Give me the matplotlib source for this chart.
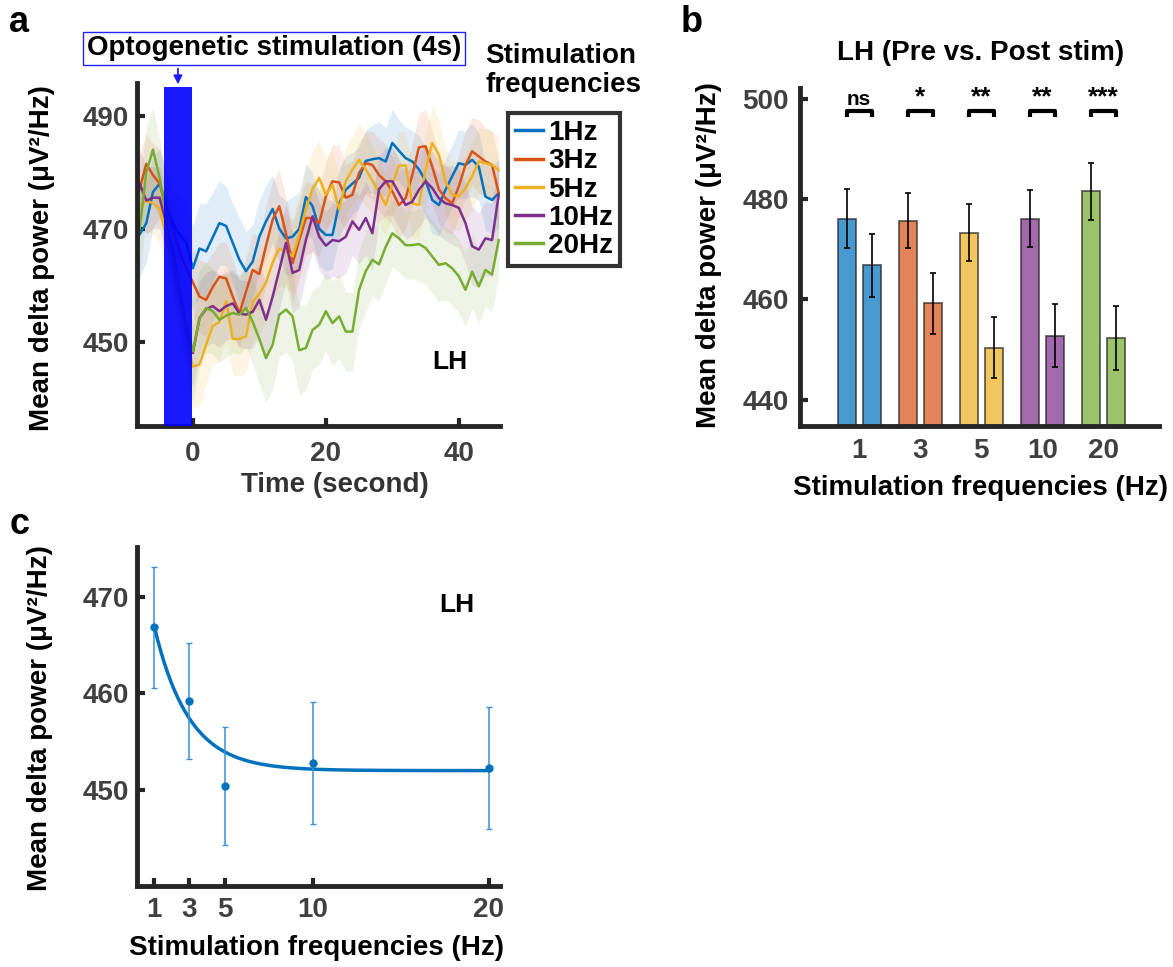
import matplotlib.pyplot as plt
import numpy as np
from matplotlib.patches import Rectangle, FancyArrowPatch

plt.rcParams['font.family'] = ['Liberation Sans', 'DejaVu Sans']
plt.rcParams['font.weight'] = 'bold'
plt.rcParams['axes.labelweight'] = 'bold'

# ---------------- data ----------------
# panel a: mean delta power traces, one sample per second from -9 s to 46 s
time_s = np.arange(-9, 47)
freq_labels = ['1Hz', '3Hz', '5Hz', '10Hz', '20Hz']

trace_1hz = [468, 469, 471, 476.5, 478, 474, 471, 469, 467.5,
             463, 466.5, 466, 468.5, 471, 470.5, 467.5, 464.5, 462.5, 464.2,
             468.6, 471.3, 473.5, 470, 468.3, 468.6, 470, 475.6, 474, 470,
             468.9, 468.9, 474.5, 476.9, 478, 479, 482, 482.3, 482.5, 481.9,
             485.2, 483.8, 482.5, 481.9, 480.5, 478.5, 475.1, 474.2, 476.9, 479.3,
             481.6, 481.3, 482.2, 481, 475.7, 475.1, 476.3]
trace_3hz = [474, 477, 481.5, 479.5, 478, 474, 470, 466, 463,
             460.5, 458, 457.4, 459.7, 461.5, 461.2, 458, 455, 458.9, 462.7,
             462, 467, 471.6, 474, 469.2, 463.9, 468, 471.9, 471.9, 471,
             475.7, 478.4, 478.2, 475.5, 476, 479.9, 481.6, 481.3, 479.5, 478.4,
             476.6, 474.2, 475.4, 479.5, 484.4, 484.6, 481, 477, 475.4, 474.5,
             477.5, 481.3, 483.7, 482.8, 481.9, 481.3, 476.3]
trace_5hz = [474, 474, 475, 474.5, 473.5, 469, 463, 457, 451,
             445.6, 446, 449.5, 452.8, 453.5, 457.2, 450.5, 450.5, 451, 457,
             458.5, 460.5, 464, 466.5, 466, 465.1, 469, 473.5, 477, 479,
             476, 477.8, 473.4, 478.4, 480.5, 482.2, 480.5, 478.5, 476.5, 474.2,
             477.8, 481.2, 481.2, 474.5, 474.2, 480.4, 485.2, 483.1, 478.4, 476,
             475.7, 477.2, 479.3, 481.9, 481.6, 481.3, 480.4]
trace_10hz = [478, 478, 475, 475.5, 475.5, 471, 466, 459, 453,
              448, 454.2, 455.8, 456.3, 455.4, 456.3, 456.8, 455, 454.8, 455.3,
              457.4, 453.9, 458, 462.7, 467.5, 462.2, 462.7, 468, 472.2, 468.6,
              467, 468, 467.8, 468.6, 471.3, 469.8, 471.9, 469.2, 477, 478.4,
              478.4, 476.3, 474.2, 474.8, 476.9, 478.4, 477.2, 475.4, 474.5, 474.2,
              473.7, 471, 466.9, 466.3, 468.3, 468, 476]
trace_20hz = [468, 470, 480, 484, 479, 472, 465, 459, 453,
              448.3, 454.2, 456, 455.4, 453.9, 454.6, 455.1, 454.8, 456, 453.5,
              450.5, 447.1, 449.5, 454.8, 455.7, 454.5, 448.5, 448.9, 452.1, 453,
              455.4, 453.3, 454.5, 451.8, 451.8, 459.2, 462.5, 464.5, 463.7, 466.8,
              469.2, 468.3, 467.1, 467.1, 467.3, 466.6, 465.1, 463.6, 463.9, 463,
              461.6, 459.2, 462.4, 459.8, 462.7, 461.9, 468]

sem_1hz = [8, 7.5, 7, 6.5, 6, 6, 6, 6.5, 7,
           7.5, 8, 8.5, 8, 7.5, 7, 7, 7.5, 7, 6.5, 6.5, 6.5, 6, 6, 6.5,
           7, 6.5, 6, 6, 6.5, 6.5, 6, 6, 6, 5.5, 5.5, 5.5, 6, 6.5, 6,
           6, 5.5, 5.5, 5.5, 6, 6, 6, 5.5, 5.5, 5.5, 6, 6, 6.5, 6, 6, 6, 6]
sem_3hz = [6, 6, 5.5, 5.5, 6, 6, 6.5, 6.5, 6.5,
           6, 6.5, 6.5, 6, 6, 6.5, 6.5, 6, 6, 6.5, 6.5, 7, 7, 6.5, 6.5,
           7, 7, 6.5, 6, 6, 6, 6.5, 6.5, 6, 6, 5.5, 5.5, 6, 6.5, 6.5,
           6, 6, 5.5, 5.5, 6, 6.5, 6.5, 6, 6, 5.5, 5.5, 6, 6, 6.5, 6, 6, 6]
sem_5hz = [5, 5, 5.5, 5.5, 6, 6, 6.5, 7, 7,
           7.5, 7.5, 7, 7, 7, 7, 6.5, 6.5, 6.5, 7, 7, 7, 7, 6.5, 6.5,
           6.5, 6.5, 7, 7, 6.5, 6.5, 6, 6, 6, 6, 6.5, 6.5, 6, 6, 5.5,
           5.5, 6, 6, 6, 6, 6.5, 6.5, 6, 6, 6, 6, 6, 6, 6, 6, 6, 6]
sem_10hz = [6, 6, 6, 5.5, 5.5, 6, 6, 6, 6,
            6, 6.5, 6.5, 6.5, 6.5, 6, 6, 6, 6, 6.5, 6.5, 6.5, 7, 7, 7,
            7, 6.5, 6.5, 6, 6, 6, 6.5, 6.5, 6.5, 6, 6, 6.5, 6.5, 6, 6,
            6, 6, 6, 6, 6.5, 6.5, 6.5, 6.5, 6.5, 7, 7, 7, 7, 6.5, 6.5, 6.5, 6.5]
sem_20hz = [9, 8.5, 8, 7.5, 7, 7, 7, 7.5, 8,
            9, 8.5, 8, 7.5, 7.5, 7.5, 7, 7, 7, 7.5, 8, 8, 8, 7.5, 7.5,
            8, 8, 7.5, 7, 7, 7, 7.5, 7.5, 7, 7, 7, 7, 6.5, 6.5, 6.5,
            6, 6, 6, 6, 6.5, 6.5, 6.5, 6.5, 6.5, 6.5, 6.5, 6.5, 6.5, 6.5, 6.5, 6.5, 6.5]

traces = [trace_1hz, trace_3hz, trace_5hz, trace_10hz, trace_20hz]
sems = [sem_1hz, sem_3hz, sem_5hz, sem_10hz, sem_20hz]

# panel b / c: pre vs post stimulation means
freqs = [1, 3, 5, 10, 20]
pre_mean = [476.1, 475.7, 473.3, 476.1, 481.5]
pre_sem = [5.9, 5.5, 5.7, 5.7, 5.7]
post_mean = [466.8, 459.2, 450.4, 452.8, 452.3]
post_sem = [6.3, 6.0, 6.1, 6.3, 6.3]
sig_labels = ['ns', '*', '**', '**', '***']

# exponential fit shown in panel c
fit_c, fit_a, fit_k = 452.0, 14.9, 0.51

colors = ['#0072BD', '#D95319', '#EDB120', '#7E2F8E', '#77AC30']
axcol = '#262626'
tickcol = '#404040'
FS = 20


def style_axes(ax):
    for s in ['top', 'right']:
        ax.spines[s].set_visible(False)
    for s in ['left', 'bottom']:
        ax.spines[s].set_linewidth(3.5)
        ax.spines[s].set_color(axcol)
    ax.tick_params(direction='in', length=6, width=3, colors=axcol,
                   labelcolor=tickcol, labelsize=FS, pad=6)


fig = plt.figure(figsize=(11.73, 9.67), dpi=100)

# ---------------- panel a ----------------
ax1 = fig.add_axes([0.1168, 0.5595, 0.3095, 0.3547])
for tr, se, c, lab in zip(traces, sems, colors, freq_labels):
    tr = np.array(tr)
    se = np.array(se)
    ax1.fill_between(time_s, tr - se, tr + se, color=c, alpha=0.12, lw=0)
    ax1.plot(time_s, tr, color=c, lw=1.8, label=lab)
ax1.add_patch(Rectangle((-4.4, 435.1), 4.3, 60.0, facecolor='#0000ff',
                        edgecolor='none', alpha=0.9, zorder=5))
ax1.set_xlim(-8.4, 46.2)
ax1.set_ylim(435.1, 495.8)
ax1.set_xticks([0, 20, 40])
ax1.set_yticks([450, 470, 490])
style_axes(ax1)
ax1.tick_params(axis='x', pad=11)
ax1.set_xlabel('Time (second)', fontsize=FS, color='#333333')
ax1.xaxis.set_label_coords(0.545, -0.135)
ax1.set_ylabel('Mean delta power (μV²/Hz)', fontsize=FS, color='black')
ax1.yaxis.set_label_coords(-0.226, 0.49)
ax1.text(38.7, 446.5, 'LH', fontsize=19, ha='center', va='center', color='black')

fig.text(0.2336, 0.950, 'Optogenetic stimulation (4s)', fontsize=FS, ha='center',
         va='center', color='black',
         bbox=dict(boxstyle='square,pad=0.12', facecolor='white', edgecolor='#2222ff', lw=1))
fig.patches.append(FancyArrowPatch(
    (0.1517, 0.932), (0.1517, 0.910), transform=fig.transFigure,
    arrowstyle='-|>', mutation_scale=13, color='#1a1aff', lw=1.2))
fig.text(0.4135, 0.9266, 'Stimulation\nfrequencies', fontsize=FS, ha='left',
         va='center', color='black', linespacing=1.15)
leg = fig.legend(*ax1.get_legend_handles_labels(), loc='upper left',
                 bbox_to_anchor=(0.433, 0.883), bbox_transform=fig.transFigure,
                 fontsize=FS, frameon=True, fancybox=False, handlelength=1.0,
                 handletextpad=0.2, labelspacing=0.08, borderpad=0.25, borderaxespad=0)
leg.get_frame().set_edgecolor('black')
leg.get_frame().set_linewidth(3)
for line in leg.get_lines():
    line.set_linewidth(2.5)

# ---------------- panel b ----------------
ax2 = fig.add_axes([0.682, 0.5595, 0.306, 0.3495])
pos = np.arange(1, len(freqs) + 1)
for i in range(len(freqs)):
    ax2.bar(pos[i] - 0.205, pre_mean[i] - 434.8, bottom=434.8, width=0.29,
            color=colors[i], alpha=0.72, edgecolor=axcol, lw=1.3)
    ax2.bar(pos[i] + 0.205, post_mean[i] - 434.8, bottom=434.8, width=0.29,
            color=colors[i], alpha=0.72, edgecolor=axcol, lw=1.3)
    ax2.errorbar([pos[i] - 0.205, pos[i] + 0.205], [pre_mean[i], post_mean[i]],
                 yerr=[pre_sem[i], post_sem[i]], fmt='none', ecolor='black',
                 elinewidth=1.4, capsize=2, capthick=1.4, alpha=0.85)
    # significance bracket
    ax2.plot([pos[i] - 0.205, pos[i] - 0.205, pos[i] + 0.205, pos[i] + 0.205],
             [496.3, 497.5, 497.5, 496.3], color='black', lw=3, solid_capstyle='butt')
    ax2.text(pos[i], 497.9, sig_labels[i], fontsize=15 if sig_labels[i] == 'ns' else 19,
             ha='center', va='bottom', color='black')
ax2.set_xlim(0.03, 5.91)
ax2.set_ylim(434.8, 502.1)
ax2.set_xticks(pos)
ax2.set_xticklabels([str(f) for f in freqs])
ax2.set_yticks([440, 460, 480, 500])
style_axes(ax2)
ax2.tick_params(axis='x', length=0, pad=9)
ax2.tick_params(axis='y', pad=8)
ax2.set_xlabel('Stimulation frequencies (Hz)', fontsize=FS, color='black')
ax2.xaxis.set_label_coords(0.504, -0.145)
ax2.set_ylabel('Mean delta power (μV²/Hz)', fontsize=FS, color='black')
ax2.yaxis.set_label_coords(-0.217, 0.506)
fig.text(0.836, 0.945, 'LH (Pre vs. Post stim)', fontsize=FS, ha='center',
         va='center', color='black')

# ---------------- panel c ----------------
ax3 = fig.add_axes([0.1168, 0.0838, 0.3095, 0.3510])
xfit = np.linspace(freqs[0], freqs[-1], 200)
yfit = fit_c + fit_a * np.exp(-fit_k * (xfit - freqs[0]))
ax3.plot(xfit, yfit, color='#0072BD', lw=2.5)
ax3.errorbar(freqs, post_mean, yerr=post_sem, fmt='o', color='#0072BD',
             ecolor='#3a8fd8', elinewidth=1.1, capsize=2, capthick=1.0, ms=5)
ax3.set_xlim(0.02, 20.64)
ax3.set_ylim(440.07, 475.17)
ax3.set_xticks(freqs)
ax3.set_yticks([450, 460, 470])
style_axes(ax3)
ax3.tick_params(axis='x', pad=8)
ax3.set_xlabel('Stimulation frequencies (Hz)', fontsize=FS, color='black')
ax3.xaxis.set_label_coords(0.494, -0.143)
ax3.set_ylabel('Mean delta power (μV²/Hz)', fontsize=FS, color='black')
ax3.yaxis.set_label_coords(-0.231, 0.496)
ax3.text(18.2, 469.1, 'LH', fontsize=19, ha='center', va='center', color='black')

fig.text(0.008, 0.977, 'a', fontsize=26, ha='left', va='center', color='black')
fig.text(0.580, 0.977, 'b', fontsize=26, ha='left', va='center', color='black')
fig.text(0.008, 0.458, 'c', fontsize=26, ha='left', va='center', color='black')

fig.savefig('out.png', dpi=100)
